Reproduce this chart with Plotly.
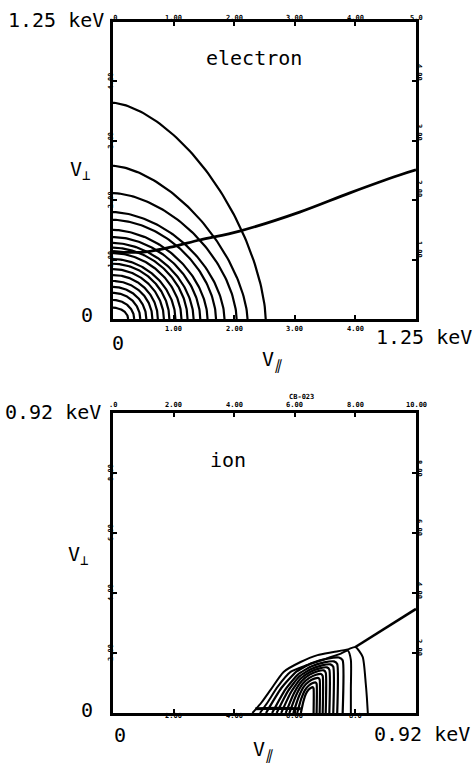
import numpy as np
import plotly.graph_objects as go

# ---------------- data ----------------
# electron panel: contour intercepts on the V_par axis (x) and V_perp axis (y), plot units 0..5
elec_x_int = [2.52, 2.22, 2.04, 1.84, 1.70, 1.56, 1.44, 1.33, 1.23, 1.13, 1.03, 0.93, 0.84, 0.74, 0.65, 0.55, 0.45, 0.35, 0.25]
elec_y_int = [3.64, 2.58, 2.12, 1.80, 1.67, 1.50, 1.38, 1.28, 1.20, 1.11, 1.01, 0.93, 0.84, 0.74, 0.64, 0.54, 0.44, 0.32, 0.19]
elec_shape = [1.6, 1.6, 1.7, 1.75, 1.8, 1.8, 1.85, 1.85, 1.9, 1.9, 1.9, 1.95, 1.95, 2.0, 2.0, 2.0, 2.0, 2.0, 2.0]
# electron loss-cone boundary
elec_bx = [0.0, 0.3, 0.61, 1.0, 1.43, 2.09, 3.08, 3.90, 4.72, 5.0]
elec_by = [1.14, 1.12, 1.14, 1.22, 1.33, 1.48, 1.80, 2.12, 2.42, 2.51]

# ion panel (plot units 0..10): two outer contours read point by point
ion_c1x = [4.60, 4.90, 5.20, 5.63, 6.19, 6.75, 7.28, 7.75, 8.00, 8.24, 8.34, 8.38, 8.41]
ion_c1y = [0.00, 0.35, 0.77, 1.37, 1.70, 1.93, 2.03, 2.12, 2.20, 1.87, 1.00, 0.50, 0.00]
ion_c2x = [4.85, 5.10, 5.43, 5.86, 6.42, 7.09, 7.52, 7.75, 7.85, 7.85, 7.85]
ion_c2y = [0.00, 0.35, 0.87, 1.37, 1.60, 1.83, 1.98, 2.08, 1.77, 0.80, 0.00]
# inner ion contours: foot (left), right side, top height
ion_left = [5.05, 5.25, 5.40, 5.55, 5.70, 5.82, 5.95, 6.08, 6.20]
ion_right = [7.58, 7.40, 7.27, 7.14, 7.02, 6.92, 6.82, 6.72, 6.62]
ion_top = [1.85, 1.72, 1.62, 1.52, 1.42, 1.30, 1.17, 1.02, 0.86]
ion_u = [0.0, 0.2, 0.4, 0.6, 0.8, 0.95, 1.0, 1.0]
ion_v = [0.0, 0.45, 0.75, 0.90, 0.98, 1.0, 0.95, 0.0]
# flat contour fragment along the bottom of the ion blob
ion_base_x = [4.70, 5.40, 6.20]
ion_base_y = [0.14, 0.16, 0.14]
# ion loss-cone boundary
ion_bx = [8.00, 10.0]
ion_by = [2.20, 3.47]

top_ticks_e = [".0", "1.00", "2.00", "3.00", "4.00", "5.0"]
bot_ticks_e = ["1.00", "2.00", "3.00", "4.00"]
left_ticks_e = ["1.00", "2.00", "3.00", "4.00"]
right_ticks_e = ["1.00", "2.00", "3.00", "4.00"]
right_pos_e = [1.18, 2.2, 3.15, 4.16]
top_ticks_i = [".0", "2.00", "4.00", "6.00", "8.00", "10.00"]
bot_ticks_i = ["2.00", "4.00", "6.00", "8.0"]
left_ticks_i = ["2.00", "4.00", "6.00", "8.00"]
right_ticks_i = ["2.00", "4.00", "6.00", "8.00"]
right_pos_i = [2.2, 4.1, 6.2, 8.17]

W, H = 476, 774
PLOT_L, PLOT_R = 113, 416
E_T, E_B = 22, 319
I_T, I_B = 413, 713

fig = go.Figure()
LW = 2.2
for a, b, p in zip(elec_x_int, elec_y_int, elec_shape):
    t = np.linspace(0, np.pi / 2, 80)
    xs = a * np.cos(t) ** (2 / p)
    ys = b * np.sin(t) ** (2 / p)
    fig.add_trace(go.Scatter(x=xs, y=ys, mode="lines", line=dict(color="black", width=LW),
                             xaxis="x", yaxis="y", hoverinfo="skip", showlegend=False))
fig.add_trace(go.Scatter(x=elec_bx, y=elec_by, mode="lines", line=dict(color="black", width=2.8, shape="spline"),
                         xaxis="x", yaxis="y", hoverinfo="skip", showlegend=False))

for xs, ys in [(ion_c1x, ion_c1y), (ion_c2x, ion_c2y)]:
    fig.add_trace(go.Scatter(x=xs, y=ys, mode="lines", line=dict(color="black", width=2.0, shape="spline", smoothing=0.6),
                             xaxis="x2", yaxis="y2", hoverinfo="skip", showlegend=False))
for l, r, h in zip(ion_left, ion_right, ion_top):
    xs = [l + u * (r - l) for u in ion_u]
    ys = [v * h for v in ion_v]
    fig.add_trace(go.Scatter(x=xs, y=ys, mode="lines", line=dict(color="black", width=2.2, shape="spline", smoothing=0.5),
                             xaxis="x2", yaxis="y2", hoverinfo="skip", showlegend=False))
fig.add_trace(go.Scatter(x=ion_base_x, y=ion_base_y, mode="lines", line=dict(color="black", width=3),
                         xaxis="x2", yaxis="y2", hoverinfo="skip", showlegend=False))
fig.add_trace(go.Scatter(x=ion_bx, y=ion_by, mode="lines", line=dict(color="black", width=2.6),
                         xaxis="x2", yaxis="y2", hoverinfo="skip", showlegend=False))

def px2x(px):
    return px / W

def py2y(py):
    return 1 - py / H

axis_common = dict(showgrid=False, zeroline=False, showline=True, linecolor="black", linewidth=2.5,
                   mirror="ticks", ticks="inside", ticklen=4, tickwidth=1.5, tickcolor="black",
                   showticklabels=False, fixedrange=True)

fig.update_layout(
    width=W, height=H, margin=dict(l=0, r=0, t=0, b=0),
    paper_bgcolor="white", plot_bgcolor="white", showlegend=False,
    xaxis=dict(domain=[px2x(PLOT_L), px2x(PLOT_R)], range=[0, 5], dtick=1, anchor="y", **axis_common),
    yaxis=dict(domain=[py2y(E_B), py2y(E_T)], range=[0, 5], dtick=1, anchor="x", **axis_common),
    xaxis2=dict(domain=[px2x(PLOT_L), px2x(PLOT_R)], range=[0, 10], dtick=2, anchor="y2", **axis_common),
    yaxis2=dict(domain=[py2y(I_B), py2y(I_T)], range=[0, 10], dtick=2, anchor="x2", **axis_common),
)

BIG = dict(family="DejaVu Sans Mono", size=20, color="black")
SMALL = dict(family="DejaVu Sans Mono", size=7, color="black")
ann = []

def big(text, px, py, xanchor="center", size=20):
    f = dict(BIG)
    f["size"] = size
    ann.append(dict(text=text, x=px2x(px), y=py2y(py), xref="paper", yref="paper",
                    xanchor=xanchor, yanchor="middle", showarrow=False, font=f))

# electron panel labels
big("1.25 keV", 106, 20, "right")
big("electron", 254, 58)
big("V<sub>⊥</sub>", 80, 170)
big("0", 87, 315)
big("0", 118, 343)
big("V<sub><i>∥</i></sub>", 272, 360)
big("1.25 keV", 474, 337, "right")
# ion panel labels
big("0.92 keV", 103, 412, "right")
big("ion", 228, 460)
big("V<sub>⊥</sub>", 78, 555)
big("0", 87, 710)
big("0", 120, 735)
big("V<sub><i>∥</i></sub>", 263, 750)
big("0.92 keV", 472, 734, "right")

# small scanned tick labels
for i, t in enumerate(top_ticks_e):
    ann.append(dict(text="<b>%s</b>" % t, x=i, y=py2y(12), xref="x", yref="paper", showarrow=False, font=SMALL))
for i, t in enumerate(bot_ticks_e):
    ann.append(dict(text="<b>%s</b>" % t, x=i + 1, y=py2y(329), xref="x", yref="paper", showarrow=False, font=SMALL))
for i, t in enumerate(left_ticks_e):
    ann.append(dict(text="<b>%s</b>" % t, x=px2x(105), y=i + 1, xref="paper", yref="y", textangle=-90, showarrow=False, font=SMALL))
for t, yv in zip(right_ticks_e, right_pos_e):
    ann.append(dict(text="<b>%s</b>" % t, x=px2x(425), y=yv, xref="paper", yref="y", textangle=90, showarrow=False, font=SMALL))
for i, t in enumerate(top_ticks_i):
    ann.append(dict(text="<b>%s</b>" % t, x=2 * i, y=py2y(405), xref="x2", yref="paper", showarrow=False, font=SMALL))
for i, t in enumerate(bot_ticks_i):
    ann.append(dict(text="<b>%s</b>" % t, x=2 * (i + 1), y=py2y(722), xref="x2", yref="paper", showarrow=False, font=SMALL))
for i, t in enumerate(left_ticks_i):
    ann.append(dict(text="<b>%s</b>" % t, x=px2x(105), y=2 * (i + 1), xref="paper", yref="y2", textangle=-90, showarrow=False, font=SMALL))
for t, yv in zip(right_ticks_i, right_pos_i):
    ann.append(dict(text="<b>%s</b>" % t, x=px2x(425), y=yv, xref="paper", yref="y2", textangle=90, showarrow=False, font=SMALL))
ann.append(dict(text="<b>CB-023</b>", x=px2x(301), y=py2y(397), xref="paper", yref="paper", showarrow=False, font=SMALL))

fig.update_layout(annotations=ann)
fig.write_html("out.html", config={"displayModeBar": False},
               post_script="document.body.style.margin='0';")
